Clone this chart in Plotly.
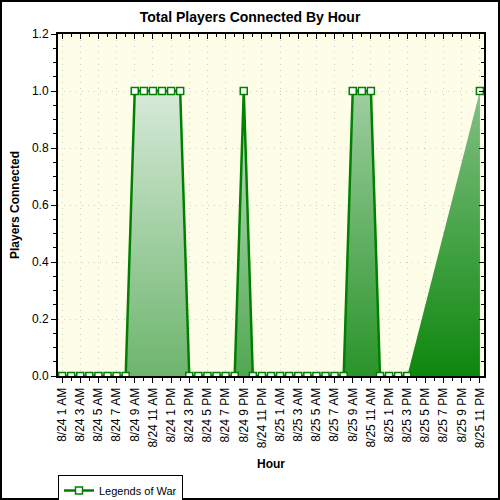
import pandas as pd
import plotly.graph_objects as go

# hourly samples, 8/24 1 AM .. 8/25 11 PM (None = no sample)
hours = pd.date_range("2011-08-24 01:00", "2011-08-25 23:00", freq="h")
players = ([0] * 8 + [1] * 6 + [0] * 6 + [1] + [0] * 11 + [1] * 3
           + [0] * 4 + [None] * 7 + [1])
series_name = "Legends of War"

GREEN = "#008000"
pad = pd.Timedelta(minutes=27)
x_lo, x_hi = hours[0] - pad, hours[-1] + pad


def shade(xf, yf):
    # diagonal gradient: light top-left -> dark green bottom-right
    t = min(max(0.6 * xf + 0.6 * yf - 0.2, 0), 1)
    lo, hi = (236, 244, 238), (0, 128, 0)
    c = [round(a + (b - a) * t) for a, b in zip(lo, hi)]
    return "rgb(%d,%d,%d)" % tuple(c)


# group the filled stretches of the area
valid = [(i, v) for i, v in enumerate(players) if v is not None]
runs, cur = [], None
for (i0, v0), (i1, v1) in zip(valid, valid[1:]):
    if v0 or v1:
        if cur is None:
            cur = [(i0, v0)]
        cur.append((i1, v1))
    elif cur:
        runs.append(cur)
        cur = None
if cur:
    runs.append(cur)

fig = go.Figure()
for run in runs:
    mid = hours[run[0][0]] + (hours[run[-1][0]] - hours[run[0][0]]) / 2
    xf = (mid - x_lo) / (x_hi - x_lo)
    fig.add_trace(go.Scatter(
        x=[hours[i] for i, _ in run], y=[v for _, v in run],
        mode="none", fill="tozeroy", showlegend=False, hoverinfo="skip",
        fillgradient=dict(type="vertical", start=0, stop=1.2,
                          colorscale=[[0, shade(xf, 1)], [1, shade(xf, 0)]])))

fig.add_trace(go.Scatter(
    x=hours, y=players, name=series_name, mode="lines+markers",
    connectgaps=False,
    line=dict(color=GREEN, width=2.5),
    marker=dict(symbol="square", size=7, color="white",
                line=dict(color=GREEN, width=1.5))))

# empty trace so the mirrored top/right axes get drawn
fig.add_trace(go.Scatter(x=[], y=[], xaxis="x2", yaxis="y2",
                         showlegend=False, hoverinfo="skip"))

grid = dict(showgrid=True, gridcolor="#cfcfcf", griddash="1px,5px", gridwidth=1)
fig.update_layout(
    width=500, height=500,
    margin=dict(l=58, r=16, t=34, b=124),
    paper_bgcolor="white", plot_bgcolor="#fefee8",
    font=dict(family="Liberation Sans, Arial", size=12, color="black"),
    title=dict(text="<b>Total Players Connected By Hour</b>", font=dict(size=14),
               x=0.5, xref="container", xanchor="center",
               y=1 - 17 / 500, yref="container", yanchor="middle", automargin=False),
    xaxis=dict(type="date", range=[x_lo, x_hi], tick0=hours[0], dtick=7200000,
               tickformat="%-m/%d %-I %p", tickangle=-90, automargin=False,
               ticks="outside", ticklen=5, tickcolor="black",
               minor=dict(dtick=3600000, ticks="outside", ticklen=3,
                          tickcolor="black", showgrid=False),
               showline=True, linecolor="black", linewidth=2, zeroline=False,
               title=dict(text="<b>Hour</b>", standoff=12, font=dict(size=12)), **grid),
    yaxis=dict(range=[0, 1.2], dtick=0.2, tickformat=".1f", automargin=False,
               ticks="outside", ticklen=5, tickcolor="black",
               minor=dict(dtick=0.05, ticks="outside", ticklen=3,
                          tickcolor="black", showgrid=False),
               showline=True, linecolor="black", linewidth=2, zeroline=False,
               title=dict(text="<b>Players Connected</b>", standoff=10,
                          font=dict(size=12)), **grid),
    xaxis2=dict(type="date", overlaying="x", side="top", range=[x_lo, x_hi],
                tick0=hours[0], dtick=7200000, showticklabels=False,
                ticks="inside", ticklen=5, tickcolor="black",
                minor=dict(dtick=3600000, ticks="inside", ticklen=3, tickcolor="black"),
                showline=True, linecolor="black", linewidth=2,
                showgrid=False, zeroline=False),
    yaxis2=dict(overlaying="y", side="right", range=[0, 1.2], dtick=0.2,
                showticklabels=False, ticks="inside", ticklen=5, tickcolor="black",
                minor=dict(dtick=0.05, ticks="inside", ticklen=3, tickcolor="black"),
                showline=True, linecolor="black", linewidth=2,
                showgrid=False, zeroline=False),
    legend=dict(x=0, xref="paper", y=1 - 475 / 500, yref="container",
                xanchor="left", yanchor="top",
                bgcolor="white", bordercolor="black", borderwidth=1,
                font=dict(size=11), itemwidth=30, tracegroupgap=0),
    showlegend=True,
)

# outer frame of the image
fig.add_shape(type="rect", xref="paper", yref="paper",
              x0=-57 / 426, x1=441 / 426, y0=-123 / 342, y1=375 / 342,
              line=dict(color="black", width=2), layer="above")

fig.write_html("out.html", config={"displayModeBar": False},
               post_script="document.body.style.margin='0';")
